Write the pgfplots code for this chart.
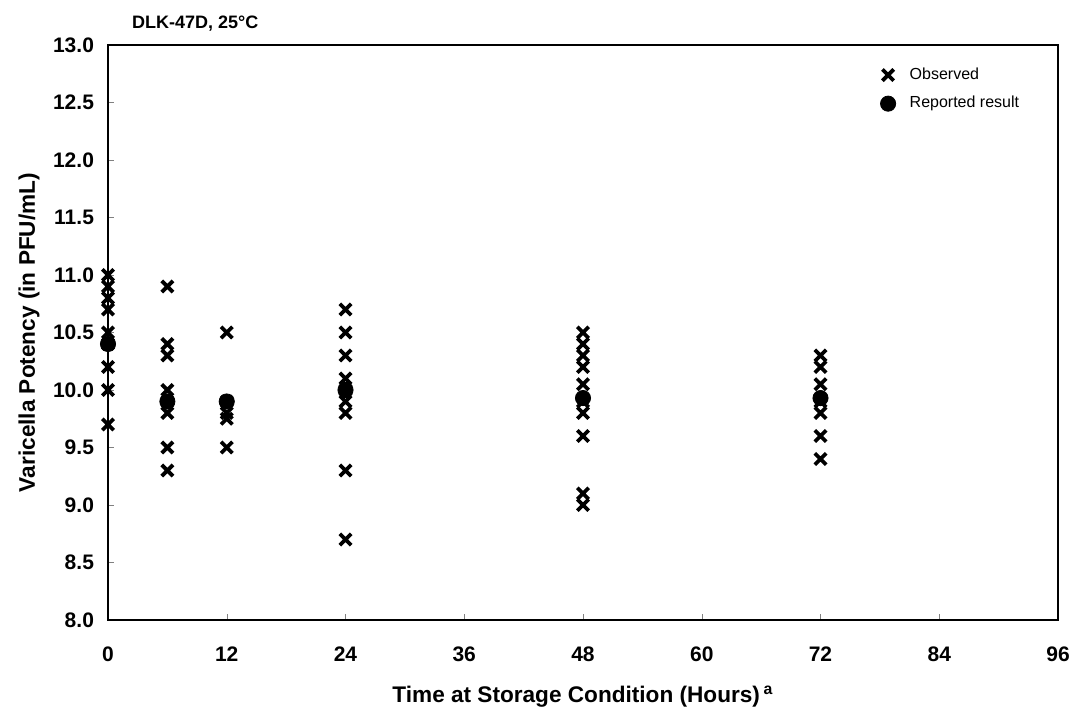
\documentclass[border=0pt]{standalone}
\usepackage{fontspec}
\setmainfont{Liberation Sans}
\usepackage{pgfplots}
\pgfplotsset{compat=1.18}

\begin{document}
\begin{tikzpicture}
\begin{axis}[
    scale only axis,
    width=475pt, height=287.5pt,
    xmin=0, xmax=96, ymin=8, ymax=13,
    xtick={0,12,...,96},
    ytick={8,8.5,...,13},
    /pgf/number format/assume math mode=true,
    ticklabel style={font=\bfseries\fontsize{10.5}{12}\selectfont},
    xticklabel style={yshift=-10pt},
    yticklabel style={xshift=-3.5pt, /pgf/number format/.cd, fixed, fixed zerofill, precision=1},
    tick align=inside,
    major tick length=3pt,
    xtick pos=bottom, ytick pos=left,
    axis line style={line width=0.9pt},
    xlabel={Time at Storage Condition (Hours)\,\textsuperscript{a}},
    ylabel={Varicella Potency (in PFU/mL)},
    label style={font=\bfseries\fontsize{11.3}{13}\selectfont},
    xlabel style={yshift=-5pt},
    ylabel style={at={(rel axis cs:-0.083,0.5)}, anchor=center},
    legend style={draw=none, fill=none, at={(0.97,0.975)}, anchor=north east,
        font=\fontsize{8}{9.5}\selectfont, row sep=3pt},
    legend cell align=left,
    clip=false,
]
\addplot[only marks, mark=x, mark size=4pt, line width=1.9pt, black] coordinates {
    (0,11.0) (0,10.9) (0,10.8) (0,10.7) (0,10.5) (0,10.4) (0,10.2) (0,10.0) (0,9.7)
    (6,10.9) (6,10.4) (6,10.3) (6,10.0) (6,9.9) (6,9.8) (6,9.5) (6,9.3)
    (12,10.5) (12,9.9) (12,9.8) (12,9.75) (12,9.5)
    (24,10.7) (24,10.5) (24,10.3) (24,10.1) (24,10.0) (24,9.9) (24,9.8) (24,9.3) (24,8.7)
    (48,10.5) (48,10.4) (48,10.3) (48,10.2) (48,10.05) (48,9.9) (48,9.8) (48,9.6) (48,9.1) (48,9.0)
    (72,10.3) (72,10.2) (72,10.05) (72,9.9) (72,9.8) (72,9.6) (72,9.4)
};
\addlegendentry{\hspace{5pt}Observed}
\addplot[only marks, mark=*, mark size=3.8pt, black] coordinates {
    (0,10.4) (6,9.9) (12,9.9) (24,10.0) (48,9.93) (72,9.93)
};
\addlegendentry{\hspace{5pt}Reported result}
\node[anchor=south west, font=\bfseries\fontsize{9}{10}\selectfont]
    at (rel axis cs:0.018,1.012) {DLK-47D, 25°C};
\path (rel axis cs:0,0) ++(-54pt,-53pt) (rel axis cs:1,1) ++(10pt,22.5pt);
\end{axis}
\end{tikzpicture}
\end{document}
